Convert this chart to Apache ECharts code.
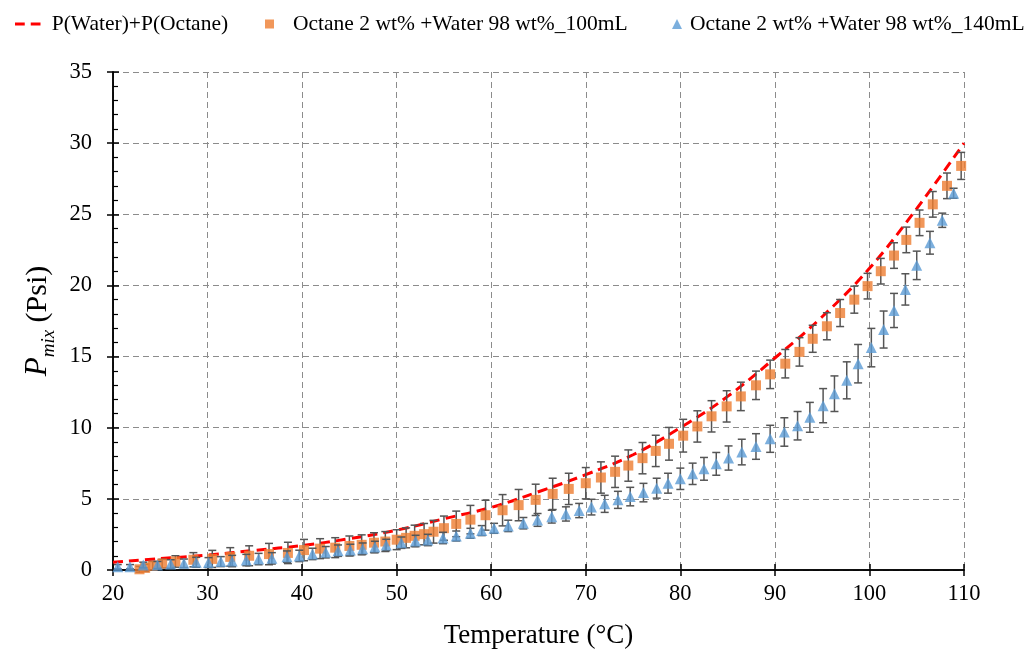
<!DOCTYPE html>
<html>
<head>
<meta charset="utf-8">
<script src="https://cdn.jsdelivr.net/npm/echarts@6/dist/echarts.min.js"></script>
<style>
html,body{margin:0;padding:0;background:#fff;}
#chart{width:1026px;height:650px;}
</style>
</head>
<body>
<div id="chart"></div>
<script>
// ---- data ----
const lineName = 'P(Water)+P(Octane)';
const lineT = [20,25,30,35,40,45,50,55,60,65,70,75,80,85,90,95,100,105,110];
const lineP = [0.55,0.8,1.05,1.38,1.72,2.2,2.8,3.6,4.4,5.5,6.7,8.1,10.0,12.2,14.9,17.8,21.2,25.4,30.0];

const orangeName = 'Octane 2 wt% +Water 98 wt%_100mL';
const orangeT = [22.8,23.4,24.2,25.2,26.6,28.5,30.5,32.4,34.4,36.5,38.5,40.2,41.9,43.5,45.0,46.3,47.6,48.8,50.0,51.0,51.9,52.9,53.9,55.0,56.3,57.8,59.4,61.2,62.9,64.7,66.5,68.2,70.0,71.6,73.1,74.5,76.0,77.4,78.8,80.3,81.8,83.3,84.9,86.4,88.0,89.5,91.1,92.6,94.0,95.5,96.9,98.4,99.8,101.2,102.6,103.9,105.3,106.7,108.2,109.7];
const orangeP = [0.05,0.15,0.3,0.45,0.6,0.72,0.78,0.92,1.0,1.12,1.2,1.4,1.5,1.57,1.69,1.77,1.92,2.0,2.13,2.26,2.4,2.52,2.69,2.94,3.24,3.54,3.85,4.2,4.56,4.93,5.35,5.7,6.1,6.5,6.9,7.34,7.86,8.37,8.87,9.44,10.09,10.8,11.5,12.2,12.98,13.75,14.5,15.33,16.25,17.13,18.06,19.0,19.95,21.0,22.1,23.2,24.4,25.7,27.0,28.4];
const orangeErr = [0.2,0.25,0.3,0.3,0.4,0.5,0.6,0.65,0.7,0.75,0.75,0.75,0.7,0.7,0.7,0.7,0.7,0.7,0.7,0.7,0.75,0.75,0.8,0.85,0.9,1.0,1.05,1.1,1.1,1.1,1.1,1.1,1.1,1.1,1.1,1.1,1.1,1.1,1.15,1.15,1.1,1.1,1.1,1.0,1.0,1.0,1.0,1.0,0.95,0.95,0.95,0.95,0.9,0.9,0.9,0.9,0.9,0.9,0.9,0.95];

const blueName = 'Octane 2 wt% +Water 98 wt%_140mL';
const blueT = [20.5,21.8,23.2,24.7,26.1,27.5,28.8,30.1,31.4,32.6,34.1,35.4,36.8,38.4,39.7,41.1,42.5,43.8,45.1,46.4,47.7,48.9,50.5,52.0,53.3,54.9,56.3,57.8,59.0,60.3,61.8,63.4,64.9,66.4,67.9,69.3,70.6,72.0,73.4,74.7,76.1,77.5,78.7,80.0,81.3,82.5,83.8,85.1,86.5,88.0,89.5,91.0,92.4,93.7,95.1,96.3,97.6,98.8,100.2,101.5,102.6,103.8,105.0,106.4,107.7,108.9];
const blueP = [0.23,0.23,0.35,0.35,0.42,0.47,0.54,0.52,0.59,0.63,0.7,0.77,0.82,0.94,0.99,1.13,1.25,1.36,1.41,1.5,1.62,1.76,1.92,2.04,2.11,2.25,2.39,2.58,2.77,2.93,3.1,3.29,3.52,3.75,3.94,4.18,4.42,4.65,4.93,5.16,5.44,5.75,6.1,6.41,6.76,7.11,7.46,7.87,8.29,8.68,9.22,9.7,10.14,10.73,11.55,12.39,13.33,14.5,15.63,16.9,18.24,19.72,21.41,23.0,24.58,26.48];
const blueErr = [0.15,0.15,0.2,0.25,0.3,0.3,0.35,0.35,0.35,0.4,0.4,0.4,0.4,0.4,0.4,0.4,0.4,0.4,0.4,0.4,0.4,0.4,0.4,0.4,0.4,0.4,0.35,0.35,0.35,0.35,0.4,0.4,0.45,0.45,0.5,0.5,0.55,0.6,0.6,0.65,0.65,0.7,0.7,0.75,0.75,0.8,0.8,0.85,0.9,0.9,0.95,1.0,1.0,1.05,1.2,1.25,1.3,1.35,1.35,1.3,1.2,1.1,1.0,0.8,0.5,0.35];

const xTicks = {min:20, max:110, interval:10};
const yTicks = {min:0, max:35, interval:5};

// ---- build ----
const FONT = '"Liberation Serif","Times New Roman",serif';
const pairs = (xs, ys) => xs.map((x, i) => [x, ys[i]]);
const errs = (xs, ys, es) => xs.map((x, i) => [x, ys[i] - es[i], ys[i] + es[i]]);

function errRender(params, api) {
  const x = api.value(0);
  const lo = api.coord([x, api.value(1)]);
  const hi = api.coord([x, api.value(2)]);
  const cap = 4;
  const st = {stroke: '#555555', lineWidth: 1.5};
  return {
    type: 'group',
    children: [
      {type: 'line', shape: {x1: lo[0], y1: lo[1], x2: hi[0], y2: hi[1]}, style: st},
      {type: 'line', shape: {x1: lo[0]-cap, y1: lo[1], x2: lo[0]+cap, y2: lo[1]}, style: st},
      {type: 'line', shape: {x1: hi[0]-cap, y1: hi[1], x2: hi[0]+cap, y2: hi[1]}, style: st}
    ]
  };
}

const LEG_FS = 21.5;
const legendText = (pad) => ({fontFamily: FONT, fontSize: LEG_FS, color: '#000', padding: [0, 0, 0, pad]});
const splitDash = {show: true, lineStyle: {color: '#8c8c8c', type: [6, 4], width: 1}};

const option = {
  animation: false,
  backgroundColor: '#fff',
  grid: {left: 113, right: 62, top: 72, bottom: 80, containLabel: false, outerBoundsMode: 'none'},
  legend: [
    {data: [{name: lineName, icon: 'path://M0,0H13V4H0Z M21,0H34V4H21Z'}], left: 10, top: 8,
     itemWidth: 34, itemHeight: 3, textStyle: legendText(2)},
    {data: [{name: orangeName, icon: 'rect'}], left: 260, top: 8, itemWidth: 9, itemHeight: 9, textStyle: legendText(14)},
    {data: [{name: blueName, icon: 'triangle'}], left: 667, top: 8, itemWidth: 10, itemHeight: 10, textStyle: legendText(3)}
  ],
  xAxis: [
    {
      type: 'value', min: xTicks.min, max: xTicks.max, interval: xTicks.interval,
      name: 'Temperature (°C)', nameLocation: 'middle', nameGap: 52,
      nameTextStyle: {fontFamily: FONT, fontSize: 27, color: '#000'},
      axisLine: {onZero: false, lineStyle: {color: '#000', width: 1.5}},
      axisTick: {show: true, length: 6, lineStyle: {color: '#000', width: 1.5}},
      axisLabel: {fontFamily: FONT, fontSize: 22.5, color: '#000', margin: 13},
      splitLine: splitDash
    },
    {
      type: 'value', min: xTicks.min, max: xTicks.max, interval: xTicks.interval, position: 'bottom',
      axisLine: {onZero: false, lineStyle: {color: '#000', width: 1.5}},
      axisTick: {show: true, inside: true, length: 6, lineStyle: {color: '#000', width: 1.5}},
      axisLabel: {show: false}, splitLine: {show: false}
    }
  ],
  yAxis: [
    {
      type: 'value', min: yTicks.min, max: yTicks.max, interval: yTicks.interval,
      name: '{p|P}{s|mix}{n| (Psi)}', nameLocation: 'middle', nameGap: 53, nameRotate: 90,
      nameTextStyle: {
        fontFamily: FONT, color: '#000',
        rich: {
          p: {fontFamily: FONT, fontSize: 31, fontStyle: 'italic', color: '#000', lineHeight: 36, verticalAlign: 'bottom'},
          s: {fontFamily: FONT, fontSize: 19, fontStyle: 'italic', color: '#000', lineHeight: 36, verticalAlign: 'bottom', padding: [0,0,-5,0]},
          n: {fontFamily: FONT, fontSize: 30, color: '#000', lineHeight: 36, verticalAlign: 'bottom'}
        }
      },
      axisLine: {show: true, onZero: false, lineStyle: {color: '#000', width: 1.5}},
      axisTick: {show: true, length: 6, lineStyle: {color: '#000', width: 1.5}},
      axisLabel: {fontFamily: FONT, fontSize: 22.5, color: '#000', margin: 21},
      splitLine: splitDash
    },
    {
      type: 'value', min: yTicks.min, max: yTicks.max, interval: yTicks.interval, position: 'left',
      axisLine: {show: true, onZero: false, lineStyle: {color: '#000', width: 1.5}},
      axisTick: {show: true, inside: true, length: 6, lineStyle: {color: '#000', width: 1.5}},
      minorTick: {show: true, splitNumber: 5, length: 5, lineStyle: {color: '#000', width: 1.2}},
      axisLabel: {show: false}, splitLine: {show: false}
    }
  ],
  series: [
    {
      name: lineName, type: 'line', data: pairs(lineT, lineP), smooth: 0.4,
      symbol: 'none', z: 2,
      lineStyle: {color: '#FF0000', width: 3, type: [10, 6]},
      itemStyle: {color: '#FF0000'}
    },
    {
      type: 'custom', renderItem: errRender, data: errs(orangeT, orangeP, orangeErr),
      encode: {x: 0, y: [1, 2]}, z: 3, silent: true
    },
    {
      name: orangeName, type: 'scatter', data: pairs(orangeT, orangeP),
      symbol: 'rect', symbolSize: 10, z: 4,
      itemStyle: {color: '#ED7D31'}
    },
    {
      type: 'custom', renderItem: errRender, data: errs(blueT, blueP, blueErr),
      encode: {x: 0, y: [1, 2]}, z: 5, silent: true
    },
    {
      name: blueName, type: 'scatter', data: pairs(blueT, blueP),
      symbol: 'triangle', symbolSize: 11, z: 6,
      itemStyle: {color: '#5B9BD5'}
    }
  ]
};

const chart = echarts.init(document.getElementById('chart'), null, {renderer: 'canvas'});
chart.setOption(option);
</script>
</body>
</html>
